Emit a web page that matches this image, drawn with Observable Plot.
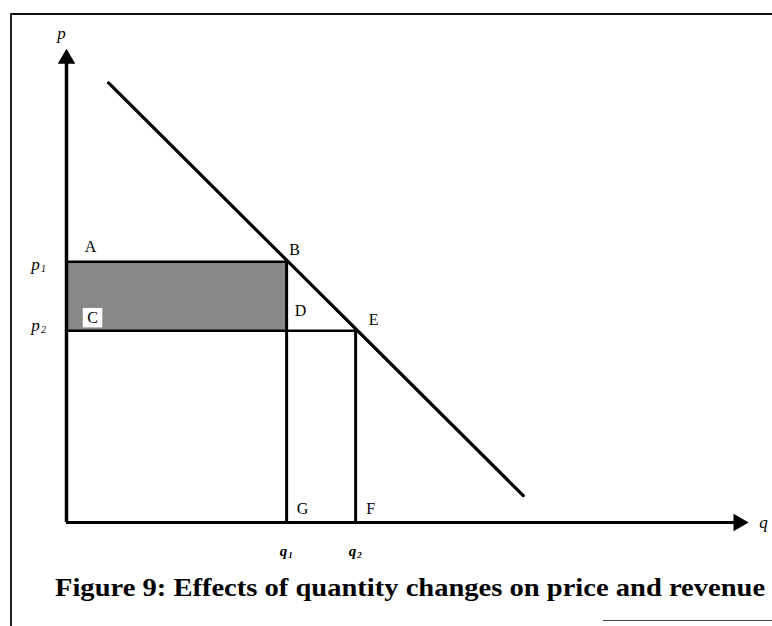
<!DOCTYPE html>
<html>
<head>
<meta charset="utf-8">
<script src="https://cdn.jsdelivr.net/npm/d3@7"></script>
<script src="https://cdn.jsdelivr.net/npm/@observablehq/plot@0.6"></script>
<style>
  html, body { margin: 0; padding: 0; background: #fff; }
  #wrap { position: relative; width: 772px; height: 626px; overflow: hidden; background: #fff; }
  #chart { position: absolute; left: 0; top: 0; }
  .frame-top { position: absolute; left: 10px; top: 13px; width: 762px; height: 2px; background: #111; }
  .frame-left { position: absolute; left: 10px; top: 13px; width: 2px; height: 613px; background: #222; }
  .frame-bottom { position: absolute; left: 603px; top: 620px; width: 169px; height: 1px; background: #444; }
  #caption { position: absolute; left: 55px; top: 575px; font-family: "Liberation Serif", "Times New Roman", serif;
             font-weight: bold; font-size: 24.5px; line-height: 25px; white-space: nowrap; color: #000;
             transform: scaleX(1.165); transform-origin: 0 0; }
</style>
</head>
<body>
<div id="wrap">
  <div class="frame-top"></div>
  <div class="frame-left"></div>
  <div class="frame-bottom"></div>
  <div id="chart"></div>
  <div id="caption">Figure 9: Effects of quantity changes on price and revenue</div>
</div>
<script>
// ---- data (abstract units on q and p axes) ----
const q1 = 3.19, q2 = 4.19;           // quantities
const p1 = 3.78, p2 = 2.78;           // prices
const demandQ = [0.61, 6.62];         // demand line endpoints (quantity)
const demandP = [6.37, 0.39];         // demand line endpoints (price)
const axisQEnd = 9.74, axisPEnd = 6.72;
const pointLabels = ["A", "B", "C", "D", "E", "F", "G"];
const axisNames = ["p", "q"];
const subscripts = ["1", "2"];

const demand = demandQ.map((q, i) => ({q, p: demandP[i]}));
const font = "Liberation Serif, Times New Roman, serif";

const pts = {
  A: {q: 0, p: p1, dx: 24, dy: -15},
  B: {q: q1, p: p1, dx: 8, dy: -12},
  C: {q: 0, p: p2, dx: 26, dy: -13},
  D: {q: q1, p: p2, dx: 14, dy: -20},
  E: {q: q2, p: p2, dx: 18, dy: -11},
  F: {q: q2, p: 0, dx: 15, dy: -14},
  G: {q: q1, p: 0, dx: 16, dy: -14}
};
const letterMarks = pointLabels.map(l => Plot.text([pts[l]], {
  x: "q", y: "p", text: () => l, dx: pts[l].dx, dy: pts[l].dy,
  fontSize: 16, fontFamily: font, fill: "#000"
}));

// price tick labels (p with italic subscript)
const priceLabelMarks = [p1, p2].flatMap((p, i) => {
  const dy = i === 0 ? 3 : -5;
  return [
    Plot.text([p], {x: () => 0, y: d => d, text: () => "p", dx: -31, dy,
      fontSize: 17, fontStyle: "italic", fontFamily: font}),
    Plot.text([p], {x: () => 0, y: d => d, text: () => subscripts[i], dx: -23, dy: dy + 4,
      fontSize: 10, fontStyle: "italic", fontFamily: font})
  ];
});

// quantity tick labels (q with italic subscript)
const quantityLabelMarks = [q1, q2].flatMap((q, i) => [
  Plot.text([q], {x: d => d, y: () => 0, text: () => "q", dx: -3, dy: 29,
    fontSize: 15, fontStyle: "italic", fontWeight: "bold", fontFamily: font}),
  Plot.text([q], {x: d => d, y: () => 0, text: () => subscripts[i], dx: 4, dy: 33,
    fontSize: 9, fontStyle: "italic", fontWeight: "bold", fontFamily: font})
]);

const chart = Plot.plot({
  width: 772,
  height: 566,
  marginLeft: 66,
  marginRight: 16,
  marginTop: 39,
  marginBottom: 44,
  x: {domain: [0, 10], axis: null},
  y: {domain: [0, 7], axis: null},
  style: {background: "transparent", overflow: "visible"},
  marks: [
    // shaded revenue loss area
    Plot.rect([{x1: 0, x2: q1, y1: p2, y2: p1}], {x1: "x1", x2: "x2", y1: "y1", y2: "y2", fill: "#888888"}),
    // white box behind C
    Plot.dot([pts.C], {x: "q", y: "p", dx: 26, dy: -13, symbol: "square", r: 11, fill: "#fff"}),
    // rectangle edges
    Plot.ruleY([p1], {x1: 0, x2: q1, stroke: "#000", strokeWidth: 2.5}),
    Plot.ruleY([p2], {x1: 0, x2: q2, stroke: "#000", strokeWidth: 2.5}),
    Plot.ruleX([q1], {y1: 0, y2: p1, stroke: "#000", strokeWidth: 3}),
    Plot.ruleX([q2], {y1: 0, y2: p2, stroke: "#000", strokeWidth: 3}),
    // axes
    Plot.ruleY([0], {x1: 0, x2: axisQEnd, stroke: "#000", strokeWidth: 3}),
    Plot.ruleX([0], {y1: 0, y2: axisPEnd, stroke: "#000", strokeWidth: 3.5}),
    Plot.dot([{q: 0, p: axisPEnd}], {x: "q", y: "p", symbol: "triangle", r: 6.5, fill: "#000"}),
    Plot.dot([{q: axisQEnd, p: 0}], {x: "q", y: "p", symbol: "triangle", r: 6.5, fill: "#000", rotate: 90}),
    // demand curve
    Plot.line(demand, {x: "q", y: "p", stroke: "#000", strokeWidth: 3.2}),
    // point letters
    ...letterMarks,
    // axis names
    Plot.text([{q: 0, p: axisPEnd}], {x: "q", y: "p", text: () => axisNames[0], dx: -5, dy: -25,
      fontSize: 17, fontStyle: "italic", fontFamily: font}),
    Plot.text([{q: axisQEnd, p: 0}], {x: "q", y: "p", text: () => axisNames[1], dx: 25, dy: 0,
      fontSize: 17, fontStyle: "italic", fontFamily: font}),
    ...priceLabelMarks,
    ...quantityLabelMarks
  ]
});
document.getElementById("chart").appendChild(chart);
</script>
</body>
</html>
